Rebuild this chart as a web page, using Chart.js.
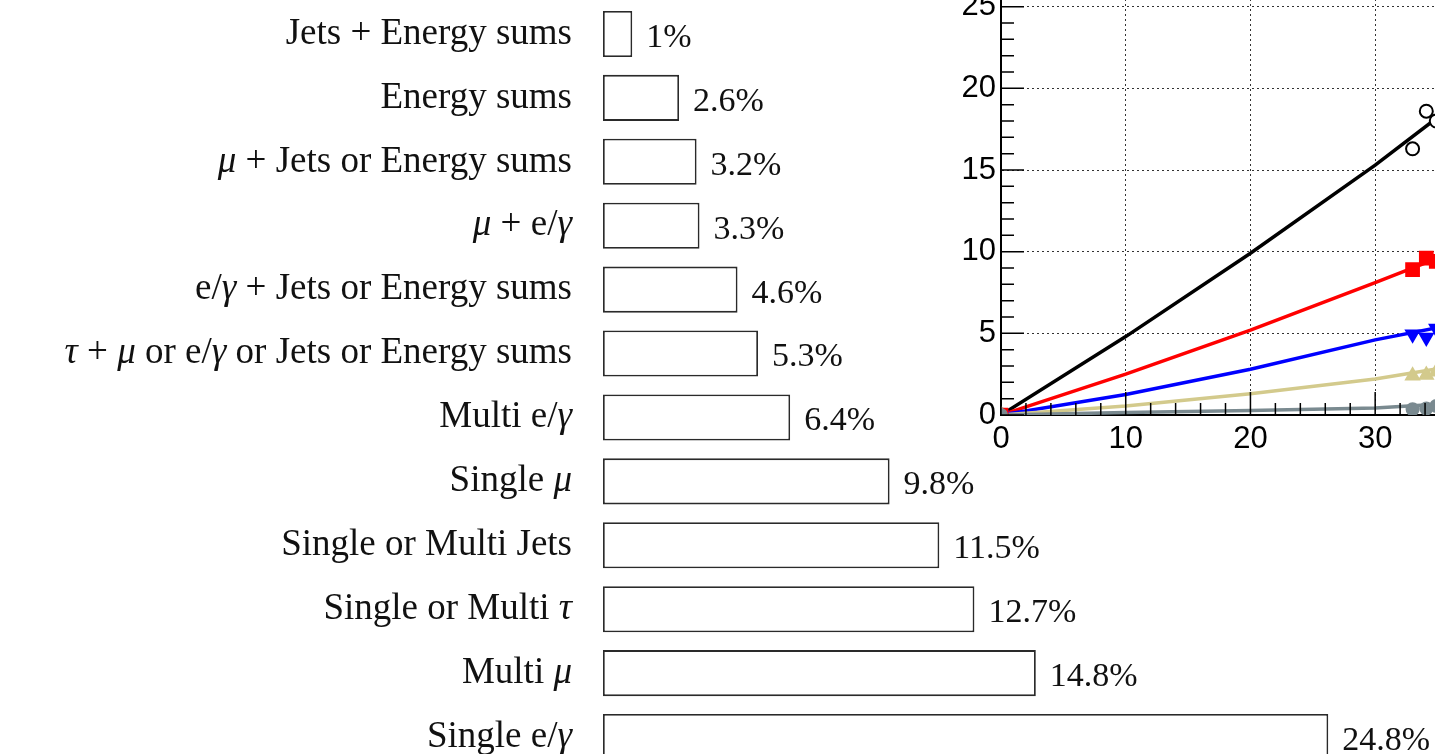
<!DOCTYPE html>
<html>
<head>
<meta charset="utf-8">
<title>Trigger rates</title>
<script src="https://cdn.jsdelivr.net/npm/chart.js@4.4.1/dist/chart.umd.min.js"></script>
<style>
  html, body { margin: 0; padding: 0; background: #fff; overflow: hidden; }
  body { width: 1435px; height: 754px; position: relative; }
  #bars { position: absolute; left: 0; top: 0; }
  #fits { position: absolute; left: 930px; top: -26px; }
</style>
</head>
<body>
<canvas id="bars" width="1435" height="769"></canvas>
<canvas id="fits" width="520" height="501"></canvas>
<script>
// Bar chart data (share of rate, %)
const categories = [
  'Jets + Energy sums',
  'Energy sums',
  'μ + Jets or Energy sums',
  'μ + e/γ',
  'e/γ + Jets or Energy sums',
  'τ + μ or e/γ or Jets or Energy sums',
  'Multi e/γ',
  'Single μ',
  'Single or Multi Jets',
  'Single or Multi τ',
  'Multi μ',
  'Single e/γ'
];
const shares = [1, 2.6, 3.2, 3.3, 4.6, 5.3, 6.4, 9.8, 11.5, 12.7, 14.8, 24.8];

// Line chart data: fit curves and measured points
const fitX = [0, 10, 20, 30, 36];
const fitBlack = [0, 4.8, 9.9, 15.3, 18.8];
const fitRed = [0, 2.5, 5.2, 8.1, 9.9];
const fitBlue = [0, 1.25, 2.8, 4.6, 5.5];
const fitKhaki = [0, 0.55, 1.3, 2.2, 2.95];
const fitGray = [0, 0.15, 0.28, 0.43, 0.7];

const ptX = [0, 33.0, 34.1, 34.9];
const ptBlack = [0, 16.3, 18.6, 18.0];
const ptRed = [0, 8.9, 9.6, 9.4];
const ptBlue = [0, 4.95, 4.75, 5.3];
const ptKhaki = [0, 2.4, 2.45, 2.65];
const ptGray = [0, 0.35, 0.4, 0.55];

const xTicks = [0, 10, 20, 30];
const yTicks = [0, 5, 10, 15, 20, 25];

const serif = '"Liberation Serif", "DejaVu Serif", serif';
const sans = '"Liberation Sans", Arial, sans-serif';
const greek = /[μγτ]/;

// category labels, greek letters in italic like LaTeX math
const mathLabels = {
  id: 'mathLabels',
  afterDraw(chart) {
    const ctx = chart.ctx;
    const ys = chart.scales.y;
    const right = chart.chartArea.left - 31;
    ctx.save();
    ctx.fillStyle = '#111';
    ctx.textBaseline = 'middle';
    ctx.textAlign = 'left';
    ys.ticks.forEach((t, i) => {
      const label = categories[i];
      const parts = [];
      for (const ch of label) {
        const it = greek.test(ch);
        if (parts.length && parts[parts.length - 1].it === it) parts[parts.length - 1].s += ch;
        else parts.push({ s: ch, it: it });
      }
      let w = 0;
      parts.forEach(p => {
        ctx.font = (p.it ? 'italic ' : '') + '37px ' + serif;
        p.w = ctx.measureText(p.s).width;
        w += p.w;
      });
      let x = right - w;
      const y = ys.getPixelForTick(i);
      parts.forEach(p => {
        ctx.font = (p.it ? 'italic ' : '') + '37px ' + serif;
        ctx.fillText(p.s, x, y);
        x += p.w;
      });
    });
    ctx.restore();
  }
};

// value labels right of each bar
const valueLabels = {
  id: 'valueLabels',
  afterDatasetsDraw(chart) {
    const ctx = chart.ctx;
    const meta = chart.getDatasetMeta(0);
    ctx.save();
    ctx.font = '34px ' + serif;
    ctx.fillStyle = '#111';
    ctx.textAlign = 'left';
    ctx.textBaseline = 'middle';
    meta.data.forEach((bar, i) => {
      ctx.fillText(shares[i] + '%', bar.x + 14, bar.y + 4);
    });
    ctx.restore();
  }
};

new Chart(document.getElementById('bars'), {
  type: 'bar',
  data: {
    labels: categories,
    datasets: [{
      data: shares,
      backgroundColor: '#fff',
      borderColor: '#2a2a2a',
      borderWidth: 1.8,
      borderSkipped: false,
      barPercentage: 0.72,
      categoryPercentage: 1
    }]
  },
  options: {
    indexAxis: 'y',
    responsive: false,
    animation: false,
    layout: { autoPadding: false, padding: { top: 2, right: 0, bottom: 0, left: 0 } },
    plugins: { legend: { display: false }, tooltip: { enabled: false } },
    scales: {
      x: { display: false, min: 0, max: 28.45 },
      y: {
        grid: { display: false, drawTicks: false },
        border: { display: false },
        ticks: { padding: 31, color: 'rgba(0,0,0,0)', font: { family: serif, size: 37 } },
        afterFit(scale) {
          scale.width = 603;
          scale.paddingTop = 0;
          scale.paddingBottom = 0;
        }
      }
    }
  },
  plugins: [valueLabels, mathLabels]
});

// inward tick marks like the ROOT frame
const innerTicks = {
  id: 'innerTicks',
  afterDraw(chart) {
    const ctx = chart.ctx;
    const xs = chart.scales.x, ys = chart.scales.y;
    const area = chart.chartArea;
    ctx.save();
    ctx.strokeStyle = '#000';
    ctx.lineWidth = 1.5;
    ctx.beginPath();
    for (let v = 0; v <= xs.max; v += 2) {
      const px = xs.getPixelForValue(v);
      const len = v % 10 === 0 ? 23 : 12;
      ctx.moveTo(px, area.bottom);
      ctx.lineTo(px, area.bottom - len);
    }
    for (let v = 0; v <= ys.max; v += 1) {
      const py = ys.getPixelForValue(v);
      const len = v % 5 === 0 ? 23 : 13;
      ctx.moveTo(area.left, py);
      ctx.lineTo(area.left + len, py);
    }
    ctx.stroke();
    ctx.restore();
  }
};

function fitSet(ys, color) {
  return {
    type: 'line',
    data: fitX.map((x, i) => ({ x: x, y: ys[i] })),
    borderColor: color,
    borderWidth: 3.5,
    pointRadius: 0,
    tension: 0,
    fill: false
  };
}

function pointSet(ys, color, style, fillColor, radius, rotation) {
  return {
    type: 'scatter',
    data: ptX.map((x, i) => ({ x: x, y: ys[i] })),
    pointStyle: style,
    pointRadius: radius,
    pointRotation: rotation || 0,
    pointBackgroundColor: fillColor,
    pointBorderColor: color,
    pointBorderWidth: 2
  };
}

new Chart(document.getElementById('fits'), {
  type: 'line',
  data: {
    datasets: [
      pointSet(ptGray, '#7a8a90', 'circle', '#7a8a90', 6),
      pointSet(ptKhaki, '#d3ca8c', 'triangle', '#d3ca8c', 7.5),
      pointSet(ptRed, '#ff0000', 'rect', '#ff0000', 9),
      pointSet(ptBlack, '#000', 'circle', '#fff', 6.5),
      pointSet(ptBlue, '#0000ff', 'triangle', '#0000ff', 7.5, 180),
      fitSet(fitGray, '#7a8a90'),
      fitSet(fitKhaki, '#d3ca8c'),
      fitSet(fitBlue, '#0000ff'),
      fitSet(fitRed, '#ff0000'),
      fitSet(fitBlack, '#000')
    ]
  },
  options: {
    responsive: false,
    animation: false,
    layout: { autoPadding: false, padding: 0 },
    plugins: { legend: { display: false }, tooltip: { enabled: false } },
    scales: {
      x: {
        type: 'linear',
        min: 0,
        max: 36,
        afterBuildTicks(scale) { scale.ticks = xTicks.map(v => ({ value: v })); },
        grid: { color: '#333', lineWidth: 1, drawTicks: false },
        border: { display: true, color: '#000', width: 2, dash: [2, 3] },
        ticks: { padding: 6, color: '#000', font: { family: sans, size: 31 } },
        afterFit(scale) {
          scale.height = 60;
          scale.paddingLeft = 0;
          scale.paddingRight = 0;
        }
      },
      y: {
        type: 'linear',
        min: 0,
        max: 27,
        afterBuildTicks(scale) { scale.ticks = yTicks.map(v => ({ value: v })); },
        grid: { color: '#333', lineWidth: 1, drawTicks: false },
        border: { display: true, color: '#000', width: 2, dash: [2, 3] },
        ticks: { padding: 5, color: '#000', font: { family: sans, size: 31 } },
        afterFit(scale) {
          scale.width = 71;
          scale.paddingTop = 0;
          scale.paddingBottom = 0;
        }
      }
    }
  },
  plugins: [innerTicks]
});
</script>
</body>
</html>
